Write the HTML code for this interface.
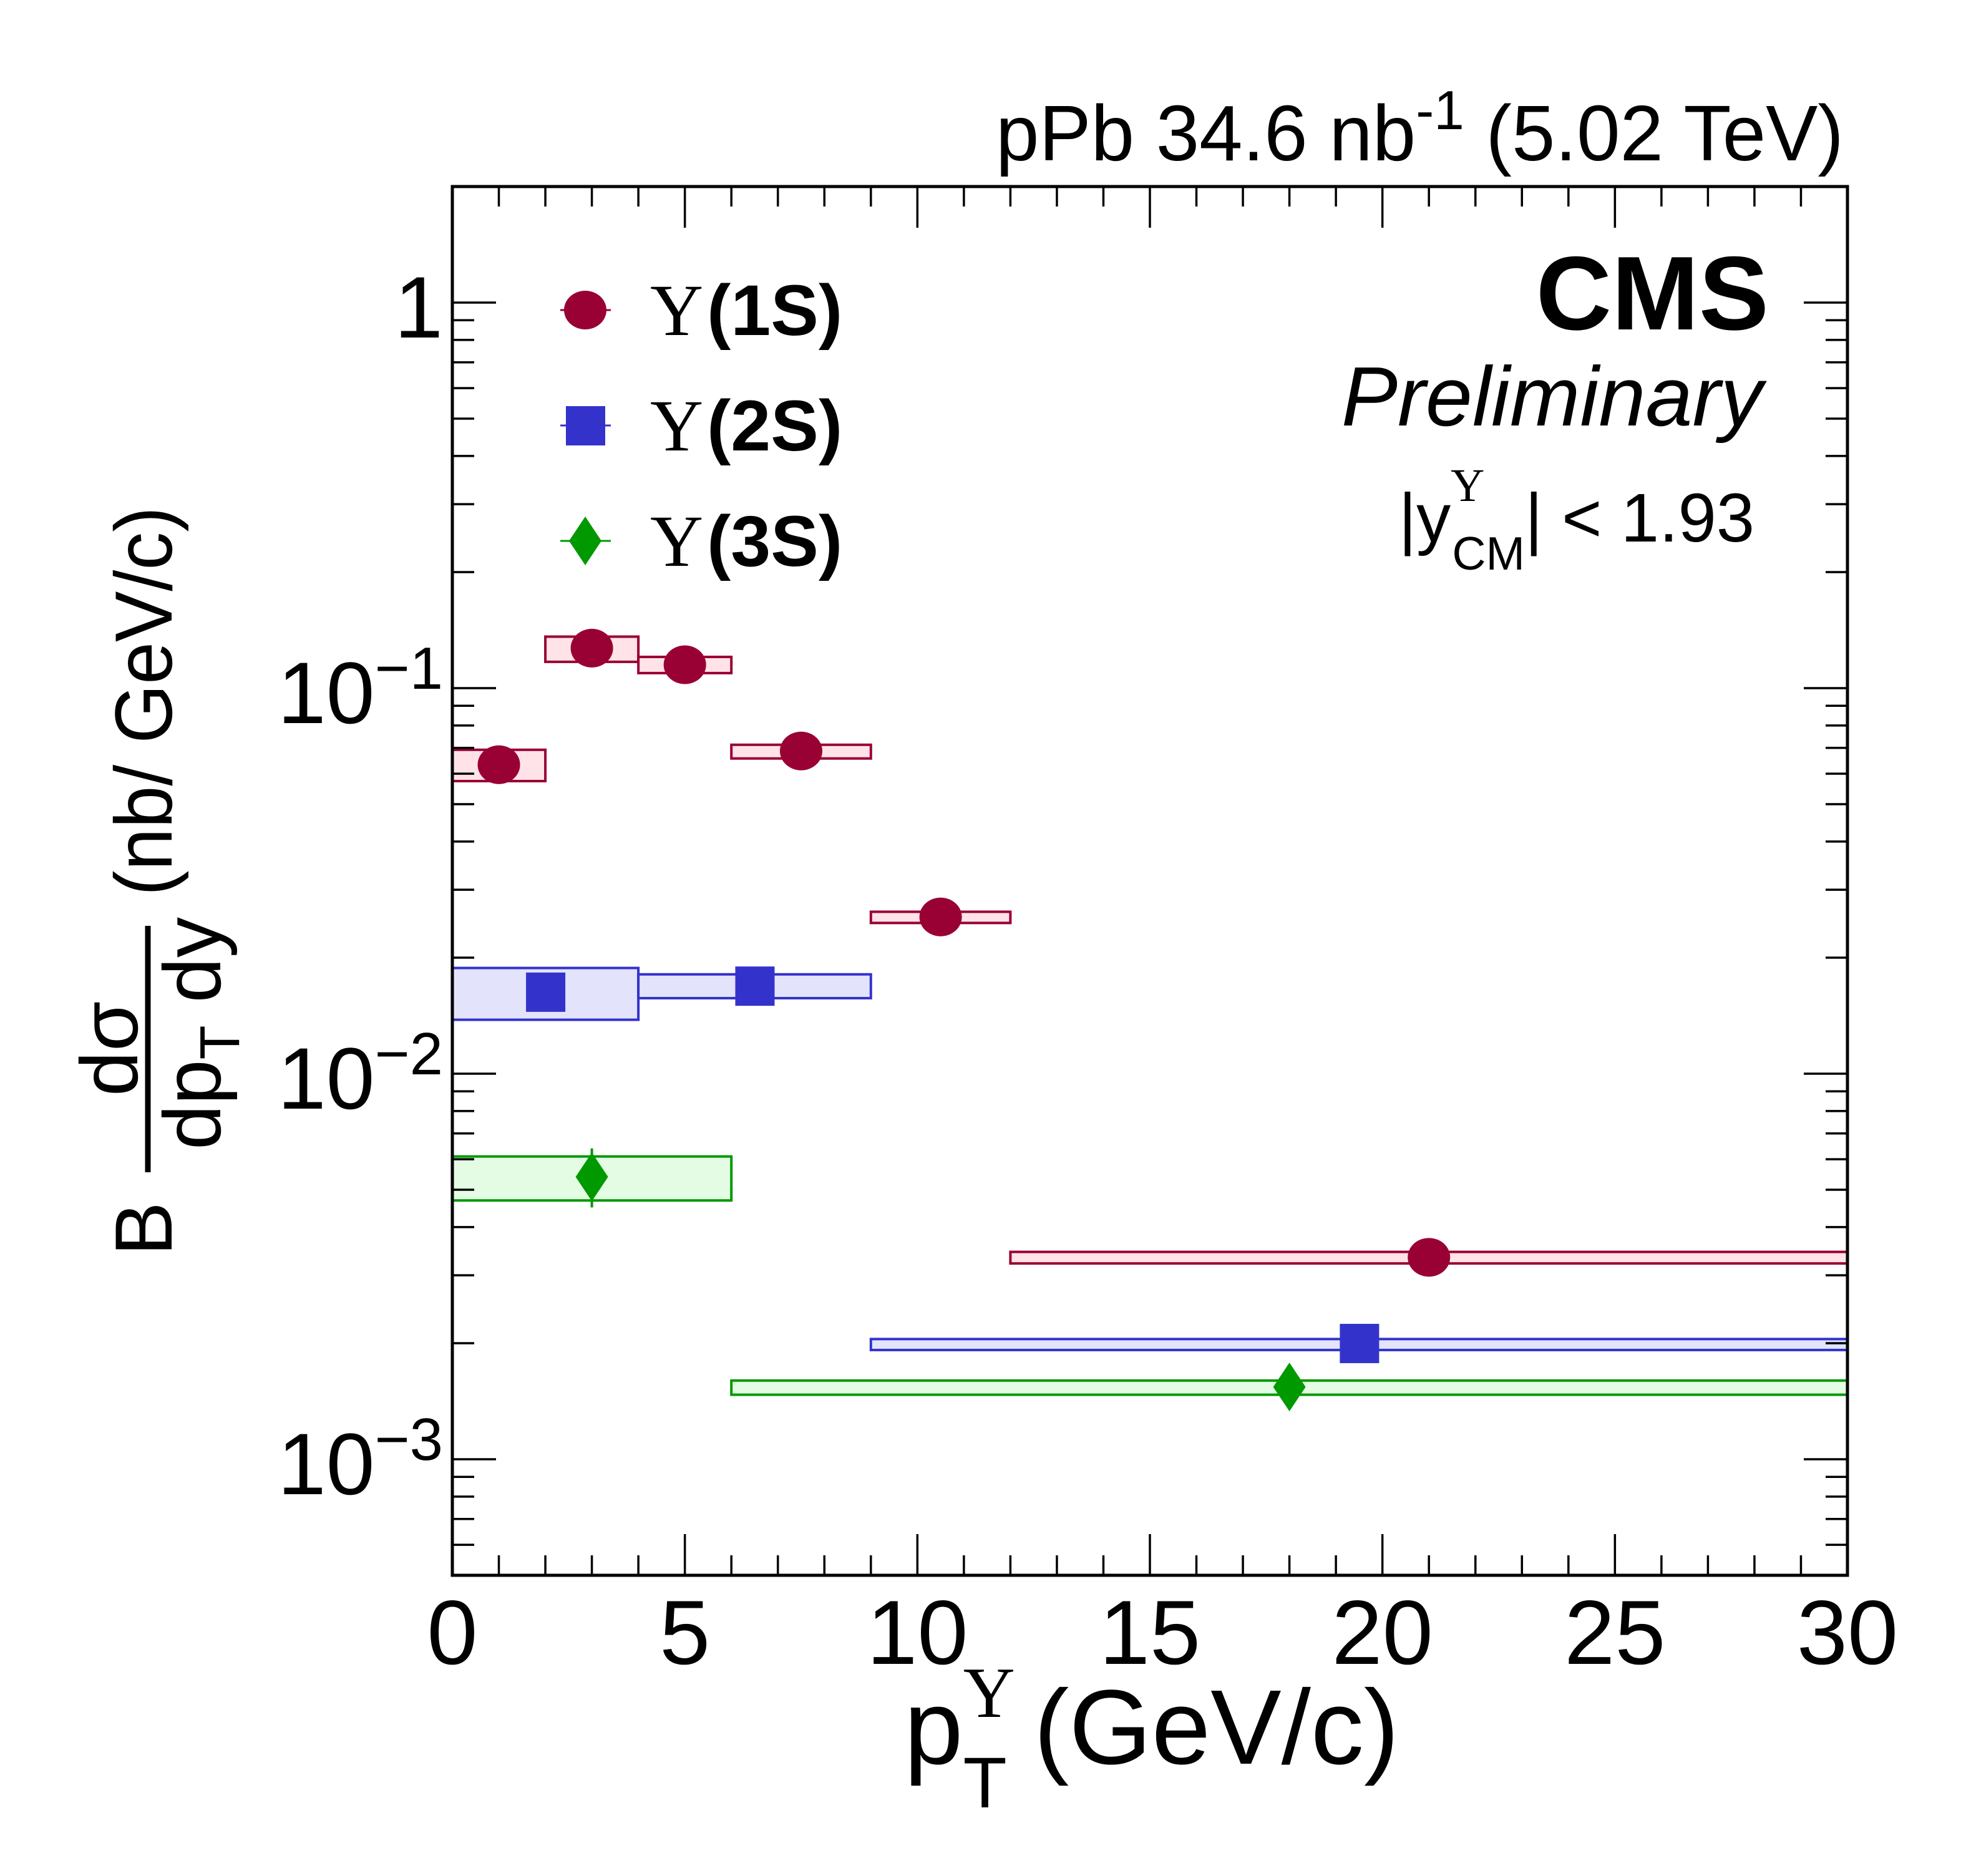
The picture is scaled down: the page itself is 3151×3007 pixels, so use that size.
<!DOCTYPE html>
<html><head><meta charset="utf-8"><style>
html,body{margin:0;padding:0;background:#fff;}
svg{display:block;font-family:"Liberation Sans",sans-serif;}
</style></head><body>
<svg id="chart" width="3151" height="3007" viewBox="0 0 3151 3007" xmlns="http://www.w3.org/2000/svg">
<rect x="0" y="0" width="3151" height="3007" fill="#fff"/>
<g id="marks"></g>
<g id="axes"></g>
<rect x="725" y="299" width="2236" height="2226" fill="none" stroke="#000" stroke-width="5"/>

<text x="1596" y="257" font-size="126" textLength="1359" lengthAdjust="spacingAndGlyphs">pPb 34.6 nb<tspan dy="-50" font-size="88">-1</tspan><tspan dy="50"> (5.02 TeV)</tspan></text>
<text x="2835" y="528" font-size="168" font-weight="bold" text-anchor="end">CMS</text>
<text x="2825" y="682" font-size="135" font-style="italic" text-anchor="end">Preliminary</text>
<text x="2812" y="868" font-size="110" text-anchor="end">|y<tspan dy="-65" font-size="75" font-family="Liberation Serif,serif">Υ</tspan><tspan dx="-52" dy="110" font-size="75">CM</tspan><tspan dy="-45">| &lt; 1.93</tspan></text>

<g>
  <g>
    <line x1="898" y1="497" x2="979" y2="497" stroke="#990033" stroke-width="3"/>
    <ellipse cx="938" cy="497" rx="34" ry="31" fill="#990033"/>
    <text x="1042" y="537" font-size="118" font-family="Liberation Serif,serif">Υ</text>
    <text x="1133" y="537" font-size="115" font-weight="bold">(1S)</text>
  </g>
  <g>
    <line x1="898" y1="682" x2="979" y2="682" stroke="#3333cc" stroke-width="3"/>
    <rect x="907" y="651" width="63" height="63" fill="#3333cc"/>
    <text x="1042" y="722" font-size="118" font-family="Liberation Serif,serif">Υ</text>
    <text x="1133" y="722" font-size="115" font-weight="bold">(2S)</text>
  </g>
  <g>
    <line x1="898" y1="867" x2="979" y2="867" stroke="#009900" stroke-width="3"/>
    <polygon points="938,828 964,867 938,906 912,867" fill="#009900"/>
    <text x="1042" y="907" font-size="118" font-family="Liberation Serif,serif">Υ</text>
    <text x="1133" y="907" font-size="115" font-weight="bold">(3S)</text>
  </g>
</g>

<text x="1449" y="2827" font-size="170">p<tspan dy="70" font-size="115">T</tspan><tspan dx="-70" dy="-145" font-size="115" font-family="Liberation Serif,serif">Υ</tspan><tspan dy="75" dx="30">(GeV/c)</tspan></text>

<g transform="rotate(-90)">
  <text x="-2013" y="275" font-size="130">B</text>
  <text x="-1681" y="220" font-size="130" text-anchor="middle">dσ</text>
  <line x1="-1879" y1="237" x2="-1484" y2="237" stroke="#000" stroke-width="9"/>
  <text x="-1843" y="353" font-size="130">dp<tspan dy="30" font-size="90">T</tspan><tspan dy="-30"> dy</tspan></text>
  <text x="-1436" y="275" font-size="130" textLength="624" lengthAdjust="spacingAndGlyphs">(nb/ GeV/c)</text>
</g>
</svg>
<script>
const x1sCenter = [1, 3, 5, 7.5, 10.5, 21];
const x1sLow = [0, 2, 4, 6, 9, 12];
const x1sHigh = [2, 4, 6, 9, 12, 30];
const y1s = [0.0633, 0.127, 0.115, 0.0687, 0.0255, 0.00334];
const y1sSysLo = [0.0574, 0.117, 0.1094, 0.0657, 0.0246, 0.00322];
const y1sSysHi = [0.0692, 0.136, 0.1205, 0.0713, 0.0263, 0.00345];

const x2sCenter = [2, 6.5, 19.5];
const x2sLow = [0, 4, 9];
const x2sHigh = [4, 9, 30];
const y2s = [0.0163, 0.0169, 0.0020];
const y2sSysLo = [0.0138, 0.0157, 0.00192];
const y2sSysHi = [0.0188, 0.0181, 0.00205];

const x3sCenter = [3, 18];
const x3sLow = [0, 6];
const x3sHigh = [6, 30];
const y3s = [0.0054, 0.00154];
const y3sSysLo = [0.00469, 0.00147];
const y3sSysHi = [0.0061, 0.0016];
const y3sStatLo = [0.0045, 0.00145];
const y3sStatHi = [0.0064, 0.00163];

const xTickLabels = ["0", "5", "10", "15", "20", "25", "30"];
const xTickValues = [0, 5, 10, 15, 20, 25, 30];
const yDecades = [1, 0.1, 0.01, 0.001];
const yDecadeExp = ["", "−1", "−2", "−3"];

const X0 = 725, X1 = 2961, Y0 = 299, Y1 = 2525;
const XMIN = 0, XMAX = 30;
const YTOP = 485, DEC = 618;
function xs(v){ return X0 + (v - XMIN) / (XMAX - XMIN) * (X1 - X0); }
function ys(v){ return YTOP - Math.log10(v) * DEC; }

const NS = "http://www.w3.org/2000/svg";
const marks = document.getElementById('marks');
const axes = document.getElementById('axes');
function mk(tag, attrs, parent){
  const e = document.createElementNS(NS, tag);
  for (const k in attrs) e.setAttribute(k, attrs[k]);
  parent.appendChild(e);
  return e;
}

function drawSeries(name, cx, lo, hi, y, sLo, sHi, color, fill, shape){
  for (let i = 0; i < cx.length; i++){
    const b = mk('rect', {x: xs(lo[i]), y: ys(sHi[i]), width: xs(hi[i]) - xs(lo[i]), height: ys(sLo[i]) - ys(sHi[i]), fill: fill, stroke: color, 'stroke-width': 4}, marks);
    
    
  }
  for (let i = 0; i < cx.length; i++){
    const px = xs(cx[i]), py = ys(y[i]);
    let m;
    if (shape === 'circle') m = mk('ellipse', {cx: px, cy: py, rx: 34, ry: 31, fill: color}, marks);
    else if (shape === 'square') m = mk('rect', {x: px - 31, y: py - 31, width: 63, height: 63, fill: color}, marks);
    else m = mk('polygon', {points: `${px},${py-39} ${px+26},${py} ${px},${py+39} ${px-26},${py}`, fill: color}, marks);
    
    
  }
}
drawSeries('upsilon-1s', x1sCenter, x1sLow, x1sHigh, y1s, y1sSysLo, y1sSysHi, '#990033', '#ffe3e8', 'circle');
drawSeries('upsilon-2s', x2sCenter, x2sLow, x2sHigh, y2s, y2sSysLo, y2sSysHi, '#3333cc', '#e3e3fc', 'square');
drawSeries('upsilon-3s', x3sCenter, x3sLow, x3sHigh, y3s, y3sSysLo, y3sSysHi, '#009900', '#e3fce3', 'diamond');
for (let i = 0; i < x3sCenter.length; i++){
  const l = mk('line', {x1: xs(x3sCenter[i]), x2: xs(x3sCenter[i]), y1: ys(y3sStatLo[i]), y2: ys(y3sStatHi[i]), stroke: '#009900', 'stroke-width': 4}, marks);
  
  
}

for (let v = XMIN; v <= XMAX; v++){
  const major = v % 5 === 0;
  const len = major ? 66 : 32;
  const x = xs(v);
  const t1 = mk('line', {x1: x, x2: x, y1: Y1, y2: Y1 - len, stroke: '#000', 'stroke-width': 3.5}, axes);
  
  
  const t2 = mk('line', {x1: x, x2: x, y1: Y0, y2: Y0 + len, stroke: '#000', 'stroke-width': 3.5}, axes);
  
  
}
for (let i = 0; i < xTickLabels.length; i++){
  const t = mk('text', {x: xs(xTickValues[i]), y: 2667, 'font-size': 146, 'text-anchor': 'middle'}, axes);
  t.textContent = xTickLabels[i];
  
  
}
for (let e = -4; e <= 0; e++){
  for (let m = 1; m <= 9; m++){
    const v = m * Math.pow(10, e);
    const y = ys(v);
    if (y < Y0 || y > Y1) continue;
    const len = m === 1 ? 70 : 35;
    const a = mk('line', {x1: X0, x2: X0 + len, y1: y, y2: y, stroke: '#000', 'stroke-width': 3.5}, axes);
    
    
    const b = mk('line', {x1: X1, x2: X1 - len, y1: y, y2: y, stroke: '#000', 'stroke-width': 3.5}, axes);
    
    
  }
}
for (let i = 0; i < yDecades.length; i++){
  const y = ys(yDecades[i]) + 56;
  const t = mk('text', {x: 710, y: y, 'font-size': 140, 'text-anchor': 'end'}, axes);
  if (yDecadeExp[i] === "") t.textContent = "1";
  else {
    t.textContent = "10";
    const s = mk('tspan', {dy: -55, 'font-size': 96}, t);
    s.textContent = yDecadeExp[i];
  }
  
  
}
</script>
</body></html>
